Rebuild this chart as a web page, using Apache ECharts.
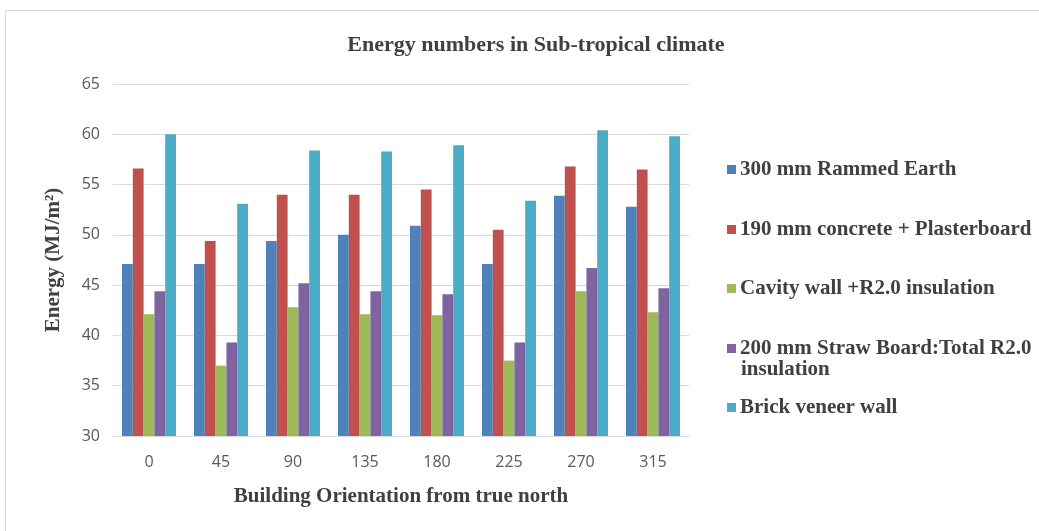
<!DOCTYPE html>
<html>
<head>
<meta charset="utf-8">
<script src="https://cdn.jsdelivr.net/npm/echarts@6/dist/echarts.min.js"></script>
<style>
  html, body { margin: 0; padding: 0; background: #fff; }
  #chart { width: 1039px; height: 531px; }
</style>
</head>
<body>
<div id="chart"></div>
<script>
// Building orientation (degrees from true north)
const orientations = ['0', '45', '90', '135', '180', '225', '270', '315'];

// Annual energy per wall system (MJ/m²)
const rammedEarth   = [47.1, 47.1, 49.4, 50.0, 50.9, 47.1, 53.9, 52.8];
const concretePlb   = [56.6, 49.4, 54.0, 54.0, 54.5, 50.5, 56.8, 56.5];
const cavityWall    = [42.1, 37.0, 42.8, 42.1, 42.0, 37.5, 44.4, 42.3];
const strawBoard    = [44.4, 39.3, 45.2, 44.4, 44.1, 39.3, 46.7, 44.7];
const brickVeneer   = [60.0, 53.1, 58.4, 58.3, 58.9, 53.4, 60.4, 59.8];

const seriesNames = [
  '300 mm Rammed Earth',
  '190 mm concrete + Plasterboard',
  'Cavity wall +R2.0 insulation',
  '200 mm Straw Board:Total R2.0 insulation',
  'Brick veneer wall'
];
const seriesData = [rammedEarth, concretePlb, cavityWall, strawBoard, brickVeneer];
const colors = ['#4F81BD', '#C0504D', '#9BBB59', '#8064A2', '#4BACC6'];

const serif = '"Liberation Serif", "DejaVu Serif", serif';
const sans = '"Open Sans", "Noto Sans", sans-serif';
const legendFont = 21;

// one legend block per series so each entry sits at its own row
const legendTops = [154, 214, 273, 333, 392];
const legends = seriesNames.map((name, i) => ({
  data: [name],
  left: 722,
  top: legendTops[i],
  orient: 'vertical',
  itemWidth: 9,
  itemHeight: 9,
  itemGap: 0,
  icon: 'rect',
  selectedMode: false,
  formatter: n => n === seriesNames[3] ? '200 mm Straw Board:Total R2.0' : n,
  textStyle: { fontFamily: serif, fontWeight: 'bold', fontSize: legendFont, color: '#404040', padding: [0, 0, 0, -1] }
}));

const chart = echarts.init(document.getElementById('chart'), null, { renderer: 'canvas' });
chart.setOption({
  backgroundColor: '#ffffff',
  animation: false,
  color: colors,
  title: {
    text: 'Energy numbers in Sub-tropical climate',
    left: 531,
    top: 29,
    textAlign: 'center',
    textStyle: { fontFamily: serif, fontWeight: 'bold', fontSize: 22, color: '#404040' }
  },
  legend: legends,
  graphic: [
    {
      type: 'rect',
      shape: { x: 5.5, y: 10.5, width: 1100, height: 600 },
      style: { fill: 'none', stroke: '#d9d9d9', lineWidth: 1 },
      silent: true
    },
    {
      type: 'text',
      left: 741,
      top: 359,
      style: { text: 'insulation', font: 'bold ' + legendFont + 'px ' + serif, fill: '#404040' },
      silent: true
    }
  ],
  grid: { left: 113, right: 350, top: 84, bottom: 95 },
  xAxis: {
    type: 'category',
    data: orientations,
    name: 'Building Orientation from true north',
    nameLocation: 'middle',
    nameGap: 50,
    nameTextStyle: { fontFamily: serif, fontWeight: 'bold', fontSize: 21, color: '#404040' },
    axisLine: { lineStyle: { color: '#d9d9d9', width: 1 } },
    axisTick: { show: false },
    axisLabel: { fontFamily: sans, fontSize: 16, color: '#595959', margin: 18 }
  },
  yAxis: {
    type: 'value',
    min: 30,
    max: 65,
    interval: 5,
    name: 'Energy (MJ/m²)',
    nameLocation: 'middle',
    nameGap: 49,
    nameTextStyle: { fontFamily: serif, fontWeight: 'bold', fontSize: 21, color: '#404040' },
    axisLine: { show: false },
    axisTick: { show: false },
    axisLabel: { fontFamily: sans, fontSize: 16, color: '#595959', margin: 13 },
    splitLine: { lineStyle: { color: '#d9d9d9', width: 1 } }
  },
  series: seriesNames.map((name, i) => ({
    name: name,
    type: 'bar',
    data: seriesData[i],
    barGap: '0%',
    barCategoryGap: '25%',
    itemStyle: { color: colors[i] }
  }))
});
</script>
</body>
</html>
